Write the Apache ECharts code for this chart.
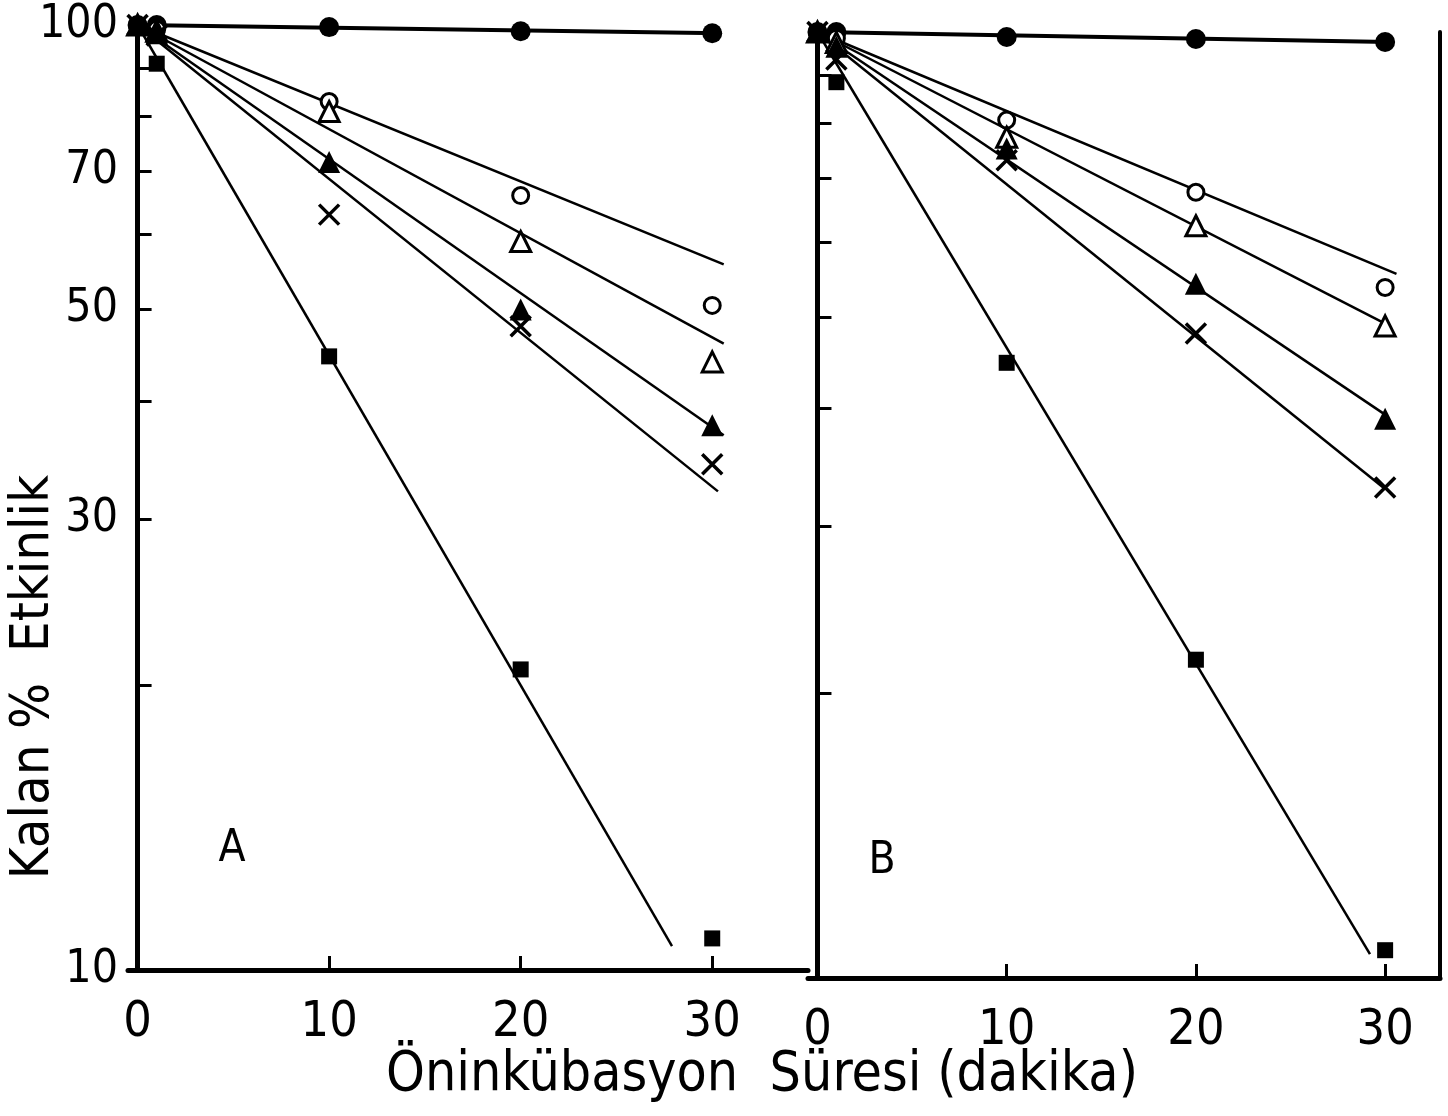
<!DOCTYPE html>
<html>
<head>
<meta charset="utf-8">
<title>Kalan % Etkinlik</title>
<script src="https://cdn.jsdelivr.net/npm/echarts@6/dist/echarts.min.js"></script>
<style>
  html, body { margin: 0; padding: 0; background: #fff; }
  #chart { width: 1448px; height: 1116px; }
</style>
</head>
<body>
<div id="chart"></div>
<script>
// preincubation time (min)
const minutes = [0, 1, 10, 20, 30]

// panel A, remaining activity (%)
const filledCircleA = [100, 100, 99.5, 98.5, 98]
const openCircleA = [100, 99, 83, 66, 50.5]
const openTriangleA = [100, 98.5, 81, 59, 44]
const filledTriangleA = [100, 98, 71.6, 50, 37.7]
const crossA = [100, 97.5, 63, 48, 34.3]
const squareA = [100, 91, 44.6, 20.8, 10.8]

// panel B, remaining activity (%)
const filledCircleB = [100, 100, 98.8, 98.3, 97.6]
const openCircleB = [100, 98.5, 80.7, 67.7, 53.7]
const openTriangleB = [100, 97.5, 77.4, 62.4, 48.9]
const filledTriangleB = [100, 96.5, 75.3, 54.2, 39]
const crossB = [100, 93.5, 73.2, 48, 33]
const squareB = [100, 88.5, 44.7, 21.7, 10.7]

// fitted lines [start, end]
const fitFilledCircleA = [[0, 100], [30.5, 98]]
const fitOpenCircleA = [[0, 100], [30.6, 55.8]]
const fitOpenTriangleA = [[0, 100], [30.6, 46]]
const fitFilledTriangleA = [[0, 100], [30.6, 36.8]]
const fitCrossA = [[0, 100], [30.3, 32.1]]
const fitSquareA = [[0, 100], [27.9, 10.6]]

const fitFilledCircleB = [[0, 100], [30.2, 97.6]]
const fitOpenCircleB = [[0, 100], [30.6, 55.5]]
const fitOpenTriangleB = [[0, 100], [29.9, 49.3]]
const fitFilledTriangleB = [[0, 100], [30, 39.4]]
const fitCrossB = [[0, 100], [29.9, 33]]
const fitSquareB = [[0, 100], [29.2, 10.6]]

// axis ticks
const xTicks = [0, 10, 20, 30]
const yTicks = [10, 20, 30, 40, 50, 60, 70, 80, 90, 100]
const yLabels = [10, 30, 50, 70, 100]

const font = "'Liberation Sans Narrow', 'DejaVu Sans Condensed', 'Liberation Sans', sans-serif"
const ink = '#000'

const markers = {
  filledCircle: { symbol: 'circle', symbolSize: 20, itemStyle: { color: ink, opacity: 1 } },
  openCircle: { symbol: 'circle', symbolSize: 16, itemStyle: { color: '#fff', borderColor: ink, borderWidth: 3, opacity: 1 } },
  openTriangle: { symbol: 'triangle', symbolSize: 20, itemStyle: { color: '#fff', borderColor: ink, borderWidth: 3, opacity: 1 } },
  filledTriangle: { symbol: 'triangle', symbolSize: 22, itemStyle: { color: ink, opacity: 1 } },
  cross: { symbol: 'path://M0,0L10,10M10,0L0,10', symbolSize: 20, itemStyle: { color: 'none', borderColor: ink, borderWidth: 3.5, opacity: 1 } },
  square: { symbol: 'rect', symbolSize: 16, itemStyle: { color: ink, opacity: 1 } }
}

function pairs(values) {
  return values.map((v, i) => [minutes[i], v])
}

function pointSeries(values, kind, panel) {
  return Object.assign({
    type: 'scatter',
    xAxisIndex: panel,
    yAxisIndex: panel,
    data: pairs(values),
    z: 5,
    animation: false
  }, markers[kind])
}

function fitSeries(points, panel, width) {
  return {
    type: 'line',
    xAxisIndex: panel,
    yAxisIndex: panel,
    data: points,
    symbol: 'none',
    lineStyle: { color: ink, width: width || 2.5 },
    z: 3,
    animation: false
  }
}

function xAxis(gridIndex, max) {
  return {
    type: 'value',
    gridIndex: gridIndex,
    min: -0.5,
    max: max,
    axisLine: { lineStyle: { color: ink, width: 5 } },
    axisTick: { inside: true, length: 14, customValues: [10, 20, 30], lineStyle: { color: ink, width: 3 } },
    axisLabel: { customValues: xTicks, color: ink, fontSize: 50, fontFamily: font, margin: 28 },
    splitLine: { show: false }
  }
}

function yAxis(gridIndex, showLabels) {
  return {
    type: 'log',
    logBase: 10,
    gridIndex: gridIndex,
    min: 10,
    max: 100,
    axisLine: { lineStyle: { color: ink, width: 5 } },
    axisTick: { inside: true, length: 14, customValues: yTicks, lineStyle: { color: ink, width: 3 } },
    axisLabel: {
      show: showLabels,
      customValues: yLabels,
      color: ink,
      fontSize: 46,
      fontFamily: font,
      margin: 10,
      formatter: v => String(Math.round(v))
    },
    splitLine: { show: false }
  }
}

const chart = echarts.init(document.getElementById('chart'), null, { renderer: 'canvas' })

chart.setOption({
  backgroundColor: '#fff',
  animation: false,
  grid: [
    { left: 128, top: 25, width: 680, height: 945 },
    { left: 808, top: 32, width: 632, height: 946 }
  ],
  xAxis: [xAxis(0, 35), xAxis(1, 32.9)],
  yAxis: [
    yAxis(0, true),
    yAxis(1, false),
    {
      type: 'log', gridIndex: 1, position: 'right', min: 10, max: 100,
      axisLine: { lineStyle: { color: ink, width: 4 } },
      axisTick: { show: false }, axisLabel: { show: false }, splitLine: { show: false }
    }
  ],
  graphic: [
    {
      type: 'text', x: 34, y: 677, rotation: Math.PI / 2,
      style: { text: 'Kalan %  Etkinlik', font: '54px ' + font, fill: ink, textAlign: 'center', textVerticalAlign: 'middle' }
    },
    {
      type: 'text', x: 762, y: 1076,
      style: { text: 'Öninkübasyon  Süresi (dakika)', font: '55px ' + font, fill: ink, textAlign: 'center', textVerticalAlign: 'middle' }
    },
    {
      type: 'text', x: 232, y: 850,
      style: { text: 'A', font: '44px ' + font, fill: ink, textAlign: 'center', textVerticalAlign: 'middle' }
    },
    {
      type: 'text', x: 882, y: 862,
      style: { text: 'B', font: '44px ' + font, fill: ink, textAlign: 'center', textVerticalAlign: 'middle' }
    }
  ],
  series: [
    fitSeries(fitFilledCircleA, 0, 4),
    fitSeries(fitOpenCircleA, 0),
    fitSeries(fitOpenTriangleA, 0),
    fitSeries(fitFilledTriangleA, 0),
    fitSeries(fitCrossA, 0),
    fitSeries(fitSquareA, 0),
    pointSeries(filledCircleA, 'filledCircle', 0),
    pointSeries(openCircleA, 'openCircle', 0),
    pointSeries(openTriangleA, 'openTriangle', 0),
    pointSeries(filledTriangleA, 'filledTriangle', 0),
    pointSeries(crossA, 'cross', 0),
    pointSeries(squareA, 'square', 0),

    fitSeries(fitFilledCircleB, 1, 4),
    fitSeries(fitOpenCircleB, 1),
    fitSeries(fitOpenTriangleB, 1),
    fitSeries(fitFilledTriangleB, 1),
    fitSeries(fitCrossB, 1),
    fitSeries(fitSquareB, 1),
    pointSeries(filledCircleB, 'filledCircle', 1),
    pointSeries(openCircleB, 'openCircle', 1),
    pointSeries(openTriangleB, 'openTriangle', 1),
    pointSeries(filledTriangleB, 'filledTriangle', 1),
    pointSeries(crossB, 'cross', 1),
    pointSeries(squareB, 'square', 1)
  ]
})
</script>
</body>
</html>
